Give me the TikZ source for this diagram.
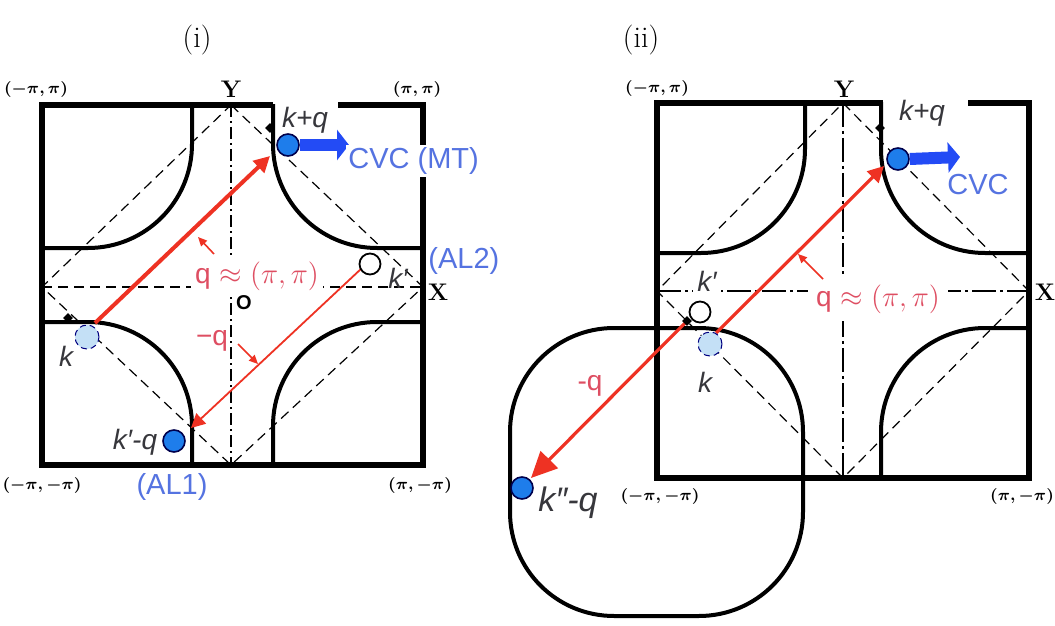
\documentclass[tikz,border=0pt]{standalone}
\usepackage{fontspec}
\setsansfont{Liberation Sans}
\usetikzlibrary{arrows.meta,shapes.geometric}

\definecolor{dotblue}{RGB}{30,125,235}
\definecolor{lblblue}{RGB}{85,115,225}
\definecolor{cvcblue}{RGB}{35,75,245}
\definecolor{qred}{RGB}{238,50,35}
\definecolor{qtext}{RGB}{222,78,98}
\definecolor{kblue}{RGB}{196,224,246}
\definecolor{kgray}{RGB}{55,55,60}

\begin{document}
\begin{tikzpicture}[x=0.5pt,y=-0.5pt,
    bz/.style={line width=3pt},
    fermi/.style={line width=2pt, rounded corners=52pt},
    guide/.style={line width=0.6pt, dash pattern=on 5pt off 3pt},
    axisthin/.style={line width=0.6pt, dash pattern=on 6pt off 2pt on 1pt off 2pt},
    axisthick/.style={line width=1.4pt, dash pattern=on 12pt off 2pt on 1.5pt off 2pt},
    hotdot/.style={circle, draw=black!70!blue, line width=0.8pt, fill=dotblue, minimum size=11pt, inner sep=0pt},
    colddot/.style={circle, draw=blue!50!black, densely dashed, line width=0.5pt, fill=kblue, minimum size=12pt, inner sep=0pt},
    opendot/.style={circle, draw, line width=0.9pt, fill=white, minimum size=10.5pt, inner sep=0pt},
    spot/.style={diamond, fill=black, inner sep=0pt, minimum size=5pt},
    klbl/.style={font=\sffamily\itshape\fontsize{14}{16}\selectfont, text=kgray},
    qlbl/.style={font=\fontsize{14}{16}\selectfont, text=qtext},
    blbl/.style={font=\sffamily\fontsize{14.5}{16}\selectfont, text=lblblue},
    corner/.style={font=\boldmath\bfseries\fontsize{8.5}{9}\selectfont},
    axlbl/.style={font=\bfseries\fontsize{12}{13}\selectfont},
    qarrow/.style={qred, line width=2pt, -{Triangle[length=8pt,width=8pt]}},
    pointer/.style={qred, line width=0.8pt, -{Triangle[length=4.5pt,width=4pt]}},
    cvc/.style={cvcblue, line width=6pt, -{Triangle[length=6pt,width=15pt]}}
  ]
  \fill[white] (0,0) rectangle (1055,626);
  \useasboundingbox (0,0) rectangle (1055,626);

  % (i) zona
  \node (ti) at (197,40) [font=\fontsize{15}{17}\selectfont] {(i)};
  \coordinate (YA) at (231,105);
  \coordinate (XA) at (423,287);
  \coordinate (SA) at (231,465);
  \coordinate (WA) at (42,287);
  \draw[guide] (YA) -- (XA) -- (SA) -- (WA) -- cycle;
  \draw[axisthin] (YA) -- (SA);
  \draw[guide] (WA) -- (XA);
  \begin{scope}
    \clip (42,105) rectangle (423,465);
    \foreach \cx/\cy in {42/105, 423/105, 42/465, 423/465}
      \draw[fermi] (\cx-150,\cy-143) rectangle (\cx+150,\cy+143);
  \end{scope}
  \draw[bz] (338,105) -- (423,105) -- (423,465) -- (42,465) -- (42,105) -- (273,105);

  % wektory q i -q
  \coordinate (qfromA) at (95,323);
  \coordinate (qtoA) at (270,156);
  \draw[qarrow] (qfromA) -- (qtoA);
  \coordinate (mqfromA) at (362,268);
  \coordinate (mqtoA) at (191,428);
  \draw[qarrow, line width=0.9pt, -{Triangle[length=7pt,width=7pt]}] (mqfromA) -- (mqtoA);

  % punkty
  \node (kqmA) at (270,128) [spot] {};
  \node (kqA) at (288,145) [hotdot] {};
  \node (kmA) at (68,318) [spot] {};
  \node (kA) at (87,337) [colddot] {};
  \node (kpA) at (370,264) [opendot] {};
  \node (kpqA) at (174,441) [hotdot] {};
  \coordinate (cvctipA) at (349,145);
  \draw[cvc] (kqA.east) -- (cvctipA);

  % opisy
  \node (kqlA) at (305,120) [klbl] {k+q};
  \node (cvcA) at (346,161) [blbl, anchor=west, fill=white, inner sep=1pt] {CVC (MT)};
  \node (al2A) at (426,261) [blbl, anchor=west, inner sep=1pt] {(AL2)};
  \node (kplA) at (398,278) [klbl] {k′};
  \node (klA) at (66,356) [klbl] {k};
  \node (kpqlA) at (135,442) [klbl] {k′-q};
  \node (al1A) at (172,487) [blbl] {(AL1)};
  \node (qlA) at (257,276) [qlbl, fill=white, inner sep=2pt] {\textsf{q} $\approx(\pi,\pi)$};
  \node (mqlA) at (212,341) [qlbl, font=\sffamily\fontsize{14}{16}\selectfont] {−q};
  \coordinate (qheadA) at (198,237);
  \coordinate (mqheadA) at (258,364);
  \draw[pointer] (214,254) -- (qheadA);
  \draw[pointer] (238,344) -- (mqheadA);
  \node (xA) at (438,292) [axlbl] {X};
  \node (yA) at (231,89) [axlbl] {Y};
  \node (oA) at (244,303) [font=\sffamily\bfseries\fontsize{10}{12}\selectfont] {O};
  \node (c1A) at (36,90) [corner] {$(-\pi,\pi)$};
  \node (c2A) at (417,90) [corner] {$(\pi,\pi)$};
  \node (c3A) at (42,485) [corner] {$(-\pi,-\pi)$};
  \node (c4A) at (420,485) [corner] {$(\pi,-\pi)$};

  % (ii) zona
  \node (tii) at (641,40) [font=\fontsize{15}{17}\selectfont] {(ii)};
  \coordinate (YB) at (843,103);
  \coordinate (XB) at (1029,291);
  \coordinate (SB) at (843,478);
  \coordinate (WB) at (657,291);
  \draw[guide] (YB) -- (XB) -- (SB) -- (WB) -- cycle;
  \draw[axisthick] (YB) -- (SB);
  \draw[axisthick] (WB) -- (XB);
  \begin{scope}
    \clip (657,103) rectangle (1029,478);
    \foreach \cx/\cy in {657/103, 1029/103, 1029/478}
      \draw[fermi] (\cx-148,\cy-150) rectangle (\cx+148,\cy+150);
  \end{scope}
  % powierzchnia wokol (-pi,-pi)
  \draw[fermi] (510,328) rectangle (803,616);
  \draw[bz] (968,103) -- (1029,103) -- (1029,478) -- (657,478) -- (657,103) -- (883,103);

  % wektory q i -q
  \coordinate (qfromB) at (716,333);
  \coordinate (qtoB) at (884,166);
  \draw[qarrow, line width=1.6pt] (qfromB) -- (qtoB);
  \coordinate (mqfromB) at (687,321);
  \coordinate (mqtoB) at (531,478);
  \draw[qarrow, line width=1.6pt, -{Triangle[length=13pt,width=12pt]}] (mqfromB) -- (mqtoB);

  % punkty
  \node (kqmB) at (880,128) [spot] {};
  \node (kqB) at (898,159) [hotdot] {};
  \node (kpB) at (700,312) [opendot] {};
  \node (kpmB) at (687,321) [spot] {};
  \node (kB) at (710,344) [colddot] {};
  \node (kppqB) at (522,488) [hotdot] {};
  \coordinate (cvctipB) at (960,157);
  \draw[cvc] (kqB.east) -- (cvctipB);

  % opisy
  \node (kqlB) at (922,113) [klbl] {k+q};
  \node (cvcB) at (978,185) [blbl] {CVC};
  \node (kplB) at (707,281) [klbl, fill=white, inner sep=2pt] {k′};
  \node (klB) at (705,382) [klbl] {k};
  \node (qlB) at (878,299) [qlbl, fill=white, inner sep=4pt] {\textsf{q} $\approx(\pi,\pi)$};
  \coordinate (qheadB) at (798,254);
  \draw[pointer] (823,279) -- (qheadB);
  \node (mqlB) at (590,386) [qlbl, font=\sffamily\fontsize{14}{16}\selectfont] {-q};
  \node (kppqlB) at (568,503) [klbl, font=\sffamily\itshape\fontsize{17}{19}\selectfont] {k″-q};
  \node (xB) at (1045,292) [axlbl] {X};
  \node (yB) at (844,89) [axlbl] {Y};
  \node (c1B) at (657,89) [corner] {$(-\pi,\pi)$};
  \node (c3B) at (660,496) [corner] {$(-\pi,-\pi)$};
  \node (c4B) at (1022,496) [corner] {$(\pi,-\pi)$};
\end{tikzpicture}
\end{document}
